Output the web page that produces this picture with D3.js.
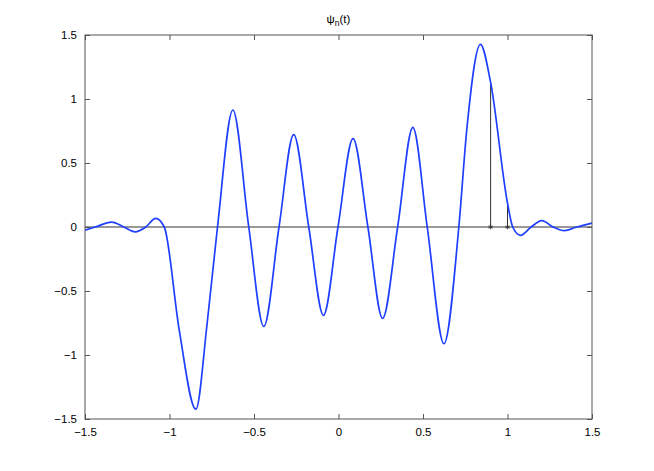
<!DOCTYPE html>
<html><head><meta charset="utf-8">
<script src="https://cdn.jsdelivr.net/npm/d3@7"></script>
<style>
body{margin:0;background:#fff;}
svg{display:block;font-family:"Liberation Sans",Arial,Helvetica,sans-serif;}
</style></head>
<body>
<svg id="chart" width="654" height="471"></svg>
<script>
// ψ_n(t)
const tValues = [-1.5,-1.44,-1.342,-1.27,-1.204,-1.14,-1.082,-1.031,-0.943,-0.844,-0.777,-0.716,-0.625,-0.531,-0.442,-0.352,-0.265,-0.176,-0.089,-0.003,0.086,0.174,0.261,0.35,0.44,0.525,0.624,0.712,0.759,0.84,0.9,1.0,1.031,1.077,1.14,1.203,1.27,1.337,1.41,1.5];
const psiValues = [-0.025,0,0.038,0,-0.038,0,0.068,0,-0.80,-1.423,-0.75,0,0.914,0,-0.777,0,0.721,0,-0.69,0,0.69,0,-0.714,0,0.778,0,-0.912,0,0.76,1.427,1.13,0.187,0,-0.065,0,0.05,0,-0.029,0,0.031];
const stemT = [0.9, 1.0];
const stemV = [1.13, 0.187];
const xTicks = [-1.5,-1,-0.5,0,0.5,1,1.5];
const yTicks = [-1.5,-1,-0.5,0,0.5,1,1.5];
const titleMain = "ψ", titleSub = "n", titleRest = "(t)";

const svg = d3.select("#chart");
const L=85, R=592, T=35, B=419;
const x = d3.scaleLinear().domain([-1.5,1.5]).range([L,R]);
const y = d3.scaleLinear().domain([-1.5,1.5]).range([B,T]);
const fmt = v => (v<0?"\u2212":"") + d3.format("")(Math.abs(v));

const g = svg.append("g");
svg.append("defs").append("clipPath").attr("id","clip").append("rect")
  .attr("x",L).attr("y",T).attr("width",R-L).attr("height",B-T);

// zero line
g.append("line").attr("x1",x(-1.5)).attr("x2",x(1.5)).attr("y1",y(0)).attr("y2",y(0))
  .attr("stroke","#333").attr("stroke-width",1);

// stems
stemT.forEach((t,i)=>{
  g.append("line").attr("x1",x(t)).attr("x2",x(t)).attr("y1",y(0)).attr("y2",y(stemV[i]))
    .attr("stroke","#333").attr("stroke-width",1);
  const cx=x(t), cy=y(0), r=2.2;
  const mk=g.append("g").attr("stroke","#333").attr("stroke-width",0.9);
  mk.append("line").attr("x1",cx-r).attr("x2",cx+r).attr("y1",cy).attr("y2",cy);
  mk.append("line").attr("x1",cx).attr("x2",cx).attr("y1",cy-r).attr("y2",cy+r);
  mk.append("line").attr("x1",cx-r*0.7).attr("x2",cx+r*0.7).attr("y1",cy-r*0.7).attr("y2",cy+r*0.7);
  mk.append("line").attr("x1",cx-r*0.7).attr("x2",cx+r*0.7).attr("y1",cy+r*0.7).attr("y2",cy-r*0.7);
});

// curve
const data = tValues.map((t,i)=>[t,psiValues[i]]);
g.append("path").datum(data).attr("clip-path","url(#clip)")
  .attr("fill","none").attr("stroke","#1f3fff").attr("stroke-width",1.7)
  .attr("stroke-linejoin","round")
  .attr("d", d3.line().x(d=>x(d[0])).y(d=>y(d[1])).curve(d3.curveMonotoneX));

// axes box
const axCol="#555";
g.append("rect").attr("x",L).attr("y",T).attr("width",R-L).attr("height",B-T)
  .attr("fill","none").attr("stroke",axCol).attr("stroke-width",1);

const axB = d3.axisBottom(x).tickValues(xTicks).tickSize(-5).tickPadding(9).tickFormat(fmt);
const axT = d3.axisTop(x).tickValues(xTicks).tickSize(-5).tickFormat("");
const axLft = d3.axisLeft(y).tickValues(yTicks).tickSize(-5).tickPadding(8).tickFormat(fmt);
const axRt = d3.axisRight(y).tickValues(yTicks).tickSize(-5).tickFormat("");
function style(sel){
  sel.select(".domain").remove();
  sel.selectAll(".tick line").attr("stroke",axCol);
  sel.selectAll("text").attr("fill","#000").style("font-size","11.5px")
     .style("font-family","'Liberation Sans',Arial,sans-serif");
}
svg.append("g").attr("transform",`translate(0,${B})`).call(axB).call(style);
svg.append("g").attr("transform",`translate(0,${T})`).call(axT).call(style);
svg.append("g").attr("transform",`translate(${L},0)`).call(axLft).call(style);
svg.append("g").attr("transform",`translate(${R},0)`).call(axRt).call(style);

// title
const tt = svg.append("text").attr("x",(L+R)/2).attr("y",23).attr("text-anchor","middle")
  .style("font-size","11.5px").attr("fill","#000");
tt.append("tspan").text(titleMain);
tt.append("tspan").attr("dy",3).style("font-size","8.5px").text(titleSub);
tt.append("tspan").attr("dy",-3).text(titleRest);
</script>
</body></html>
